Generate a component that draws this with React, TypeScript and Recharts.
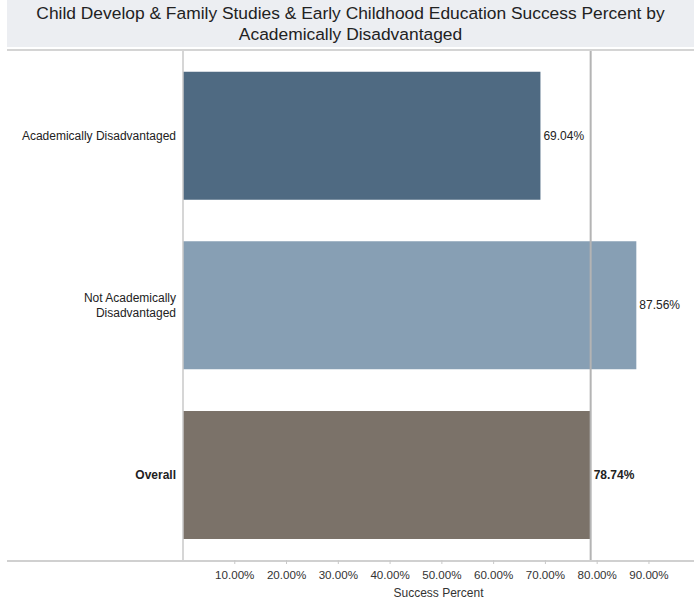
import React from "react";
import { BarChart, Bar, XAxis, YAxis, Cell, LabelList, ReferenceLine } from "recharts";

const categories = ["Academically Disadvantaged", "Not Academically Disadvantaged", "Overall"];
const categoryLines = [["Academically Disadvantaged"], ["Not Academically", "Disadvantaged"], ["Overall"]];
const successPercent = [0.6904, 0.8756, 0.7874];
const barColors = ["#4f6a82", "#879fb4", "#7b7269"];
const xTicks = [0.1, 0.2, 0.3, 0.4, 0.5, 0.6, 0.7, 0.8, 0.9];
const overallValue = 0.7874;
const titleLines = [
  "Child Develop & Family Studies & Early Childhood Education Success Percent by",
  "Academically Disadvantaged",
];

const data = categories.map((c, i) => ({ name: c, value: successPercent[i], idx: i }));
const FONT = '"Liberation Sans", Arial, Helvetica, sans-serif';
const fmt = (v: number) => (v * 100).toFixed(2) + "%";

const CategoryTick = (props: any) => {
  const { y, payload } = props;
  const i = categories.indexOf(payload.value);
  const lines = categoryLines[i] || [payload.value];
  const bold = payload.value === "Overall";
  const lh = 15;
  const startY = y - ((lines.length - 1) * lh) / 2;
  const tx = 176;
  return (
    <text
      x={tx}
      y={startY}
      textAnchor="end"
      dominantBaseline="central"
      fontSize={12}
      fontFamily={FONT}
      fill="#222"
      fontWeight={bold ? "bold" : "normal"}
    >
      {lines.map((l, k) => (
        <tspan key={k} x={tx} y={startY + k * lh}>
          {l}
        </tspan>
      ))}
    </text>
  );
};

const ValueLabel = (props: any) => {
  const { x, y, width, height, value, index } = props;
  const bold = categories[index] === "Overall";
  return (
    <text
      x={x + width + 3}
      y={y + height / 2}
      dominantBaseline="central"
      fontSize={12}
      fontFamily={FONT}
      fill="#222"
      fontWeight={bold ? "bold" : "normal"}
    >
      {fmt(value)}
    </text>
  );
};

export default function App() {
  return (
    <div style={{ position: "absolute", left: 0, top: 0, width: 694, height: 604, background: "#fff", fontFamily: FONT }}>
      <div
        style={{
          position: "absolute",
          left: 7,
          top: 0,
          width: 687,
          height: 47,
          background: "#eceef2",
          color: "#222",
          fontSize: 17.4,
          lineHeight: "21px",
          textAlign: "center",
          paddingTop: 3,
          boxSizing: "border-box",
        }}
      >
        {titleLines.map((t, i) => (
          <div key={i}>{t}</div>
        ))}
      </div>
      <div style={{ position: "absolute", left: 7, top: 49, width: 687, height: 2, background: "#d4d4d4" }} />
      <div style={{ position: "absolute", left: 7, top: 560, width: 687, height: 1.5, background: "#d0d0d0" }} />
      <div style={{ position: "absolute", left: 0, top: 0 }}>
        <BarChart
          width={694}
          height={604}
          data={data}
          layout="vertical"
          margin={{ top: 51, right: 0, bottom: 0, left: 0 }}
          barCategoryGap="12.2%"
        >
          <XAxis
            type="number"
            domain={[0, 0.987]}
            ticks={xTicks}
            tickFormatter={fmt}
            axisLine={false}
            tickLine={{ stroke: "#c8c8c8" }}
            tickSize={4}
            height={44}
            tick={{ fontSize: 11.6, fontFamily: FONT, fill: "#333", dy: 5 }}
            label={{ value: "Success Percent", position: "insideBottom", offset: 7, fontSize: 12, fontFamily: FONT, fill: "#333" }}
          />
          <YAxis
            type="category"
            dataKey="name"
            width={183}
            axisLine={{ stroke: "#c8c8c8", strokeWidth: 1.5 }}
            tickLine={false}
            tick={<CategoryTick />}
          />
          <Bar dataKey="value" isAnimationActive={false}>
            {data.map((d, i) => (
              <Cell key={i} fill={barColors[i]} />
            ))}
            <LabelList dataKey="value" content={<ValueLabel />} />
          </Bar>
          <ReferenceLine x={overallValue} stroke="#b4b4b4" strokeWidth={2} />
        </BarChart>
      </div>
    </div>
  );
}
